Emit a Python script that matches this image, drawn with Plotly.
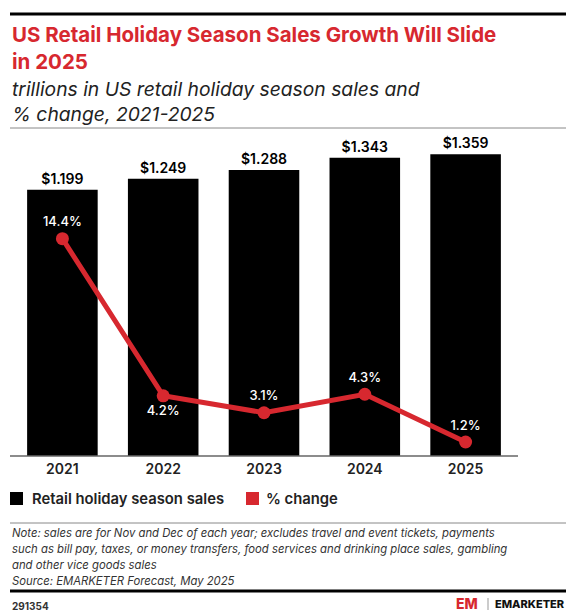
import plotly.graph_objects as go

# Data
years = ["2021", "2022", "2023", "2024", "2025"]
sales_trillions = [1.199, 1.249, 1.288, 1.343, 1.359]
pct_change = [14.4, 4.2, 3.1, 4.3, 1.2]
pct_label_pos = ["top center", "bottom center", "top center", "top center", "top center"]
note_lines = [
    "Note: sales are for Nov and Dec of each year; excludes travel and event tickets, payments",
    "such as bill pay, taxes, or money transfers, food services and drinking place sales, gambling",
    "and other vice goods sales",
    "Source: EMARKETER Forecast, May 2025",
]

RED = "#d7282f"
FONT = "Inter, 'Open Sans', sans-serif"

W, H = 574, 612
PLOT_TOP, PLOT_BOTTOM = 134, 456
PLOT_LEFT, PLOT_RIGHT = 12, 516


def py(y_px):
    """Convert a pixel row into paper coordinates."""
    return (PLOT_BOTTOM - y_px) / (PLOT_BOTTOM - PLOT_TOP)


def px(x_px):
    return (x_px - PLOT_LEFT) / (PLOT_RIGHT - PLOT_LEFT)


fig = go.Figure()

fig.add_trace(go.Bar(
    x=years, y=sales_trillions,
    marker=dict(color="#000000", line=dict(width=0)),
    text=[f"${v:.3f}" for v in sales_trillions],
    textposition="outside",
    textfont=dict(family=FONT, size=14, color="#000000", weight=600),
    cliponaxis=False,
    showlegend=False,
    hoverinfo="skip",
))

fig.add_trace(go.Scatter(
    x=years, y=pct_change, yaxis="y2",
    mode="lines+markers+text",
    line=dict(color=RED, width=5),
    marker=dict(color=RED, size=13),
    text=[f"{v}%" for v in pct_change],
    textposition=pct_label_pos,
    textfont=dict(family=FONT, size=13, color="#ffffff", weight=500),
    cliponaxis=False,
    showlegend=False,
    hoverinfo="skip",
))


def note(text, x, y, **kw):
    d = dict(text=text, x=px(x), y=py(y), xref="paper", yref="paper",
             showarrow=False)
    d.update(kw)
    return d


annotations = [
    note("US Retail Holiday Season Sales Growth Will Slide<br>in 2025", 10, 20,
         xanchor="left", yanchor="top", align="left",
         font=dict(family=FONT, size=20.5, color=RED, weight=700)),
    note("<i>trillions in US retail holiday season sales and<br>% change, 2021-2025</i>", 10, 75,
         xanchor="left", yanchor="top", align="left",
         font=dict(family=FONT, size=19.3, color="#222222")),
    # legend
    note("Retail holiday season sales", 30, 499, xanchor="left", yanchor="middle",
         font=dict(family=FONT, size=14.8, color="#222222", weight=600)),
    note("% change", 264, 499, xanchor="left", yanchor="middle",
         font=dict(family=FONT, size=14.8, color="#222222", weight=600)),
    # footer id and brand
    note("291354", 10, 606, xanchor="left", yanchor="middle",
         font=dict(family=FONT, size=10, color="#333333", weight=700)),
    note("EM", 467, 603, xanchor="center", yanchor="middle",
         font=dict(family=FONT, size=14, color=RED, weight=800)),
    note("EMARKETER", 567, 604, xanchor="right", yanchor="middle",
         font=dict(family=FONT, size=11, color="#111111", weight=800)),
]

# notes and source, one annotation per line
for i, line in enumerate(note_lines):
    annotations.append(note(f"<i>{line}</i>", 10, 533 + i * 16,
                            xanchor="left", yanchor="middle", align="left",
                            font=dict(family=FONT, size=11.3, color="#333333")))


def hline(x0, x1, y, color, width):
    return dict(type="line", xref="paper", yref="paper", x0=px(x0), x1=px(x1),
                y0=py(y), y1=py(y), line=dict(color=color, width=width))


def box(x0, x1, y0, y1, color):
    return dict(type="rect", xref="paper", yref="paper", x0=px(x0), x1=px(x1),
                y0=py(y1), y1=py(y0), fillcolor=color, line=dict(width=0))


shapes = [
    hline(10, 566, 14, "#000000", 3),          # top rule
    hline(10, 566, 128, "#888888", 1),         # rule under subtitle
    hline(10, 518, 456, "#666666", 1.5),       # baseline
    box(10, 23, 492, 505, "#000000"),          # legend swatches
    box(246, 259, 492, 505, RED),
    hline(10, 566, 523, "#888888", 1),         # rule above notes
    hline(10, 566, 591, "#000000", 3),         # rule below source
    dict(type="line", xref="paper", yref="paper", x0=px(488), x1=px(488),
         y0=py(598), y1=py(610), line=dict(color="#999999", width=1)),
]

fig.update_layout(
    width=W, height=H,
    margin=dict(l=PLOT_LEFT, r=W - PLOT_RIGHT, t=PLOT_TOP, b=H - PLOT_BOTTOM),
    paper_bgcolor="#ffffff", plot_bgcolor="#ffffff",
    bargap=0.3,
    xaxis=dict(showgrid=False, showline=False, ticks="", ticklabelstandoff=3,
               tickfont=dict(family=FONT, size=14, color="#222222", weight=600)),
    yaxis=dict(range=[0, 1.45], visible=False, showgrid=False, zeroline=False),
    yaxis2=dict(range=[0.29, 21.2], overlaying="y", visible=False,
                showgrid=False, zeroline=False),
    annotations=annotations,
    shapes=shapes,
)

fig.write_html("out.html")
